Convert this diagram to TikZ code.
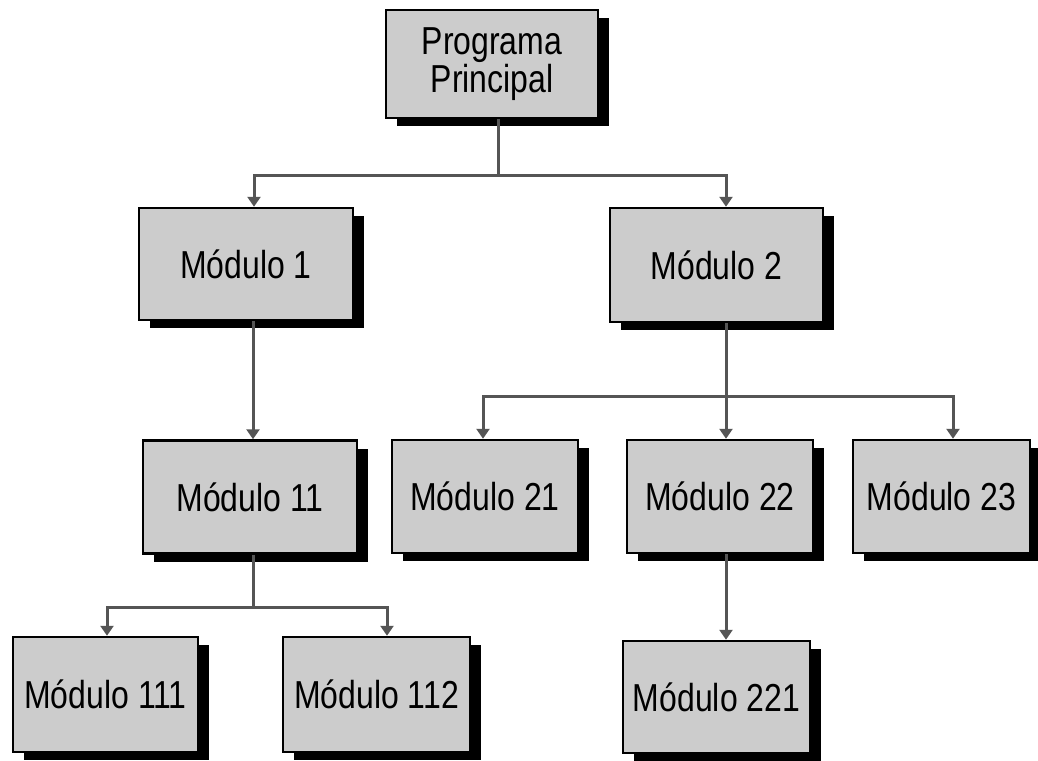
\documentclass[tikz,border=0pt]{standalone}
\usepackage{fontspec}
\setmainfont{Liberation Sans}
\newfontfamily\boxfont[FakeStretch=0.82]{Liberation Sans}
\usetikzlibrary{arrows.meta,shadows}
\definecolor{boxgray}{HTML}{CCCCCC}
\definecolor{linegray}{HTML}{555555}
\tikzset{
  modbox/.style={draw=black, line width=2.5pt, fill=boxgray, inner sep=0pt,
    font=\boxfont\fontsize{39}{38}\selectfont, align=center,
    drop shadow={shadow xshift=11pt, shadow yshift=-8pt, fill=black, opacity=1}},
  conn/.style={draw=linegray, line width=3pt},
  arr/.style={conn, -{Triangle[width=13pt,length=10pt]}}
}
\begin{document}
\begin{tikzpicture}[x=1pt,y=-1pt]
\useasboundingbox[fill=white] (0,0) rectangle (1038,760);
\node[modbox, minimum width=212pt, minimum height=108pt] (pp) at (492,64) {Programa\\Principal};
\node[modbox, minimum width=214pt, minimum height=112pt] (m1) at (246,264) {Módulo 1};
\node[modbox, minimum width=213pt, minimum height=114pt] (m2) at (716.5,265) {Módulo 2};
\node[modbox, minimum width=214pt, minimum height=113pt] (m11) at (250,497) {Módulo 11};
\node[modbox, minimum width=186pt, minimum height=113pt] (m21) at (485,496.5) {Módulo 21};
\node[modbox, minimum width=186pt, minimum height=113pt] (m22) at (720,496.5) {Módulo 22};
\node[modbox, minimum width=177pt, minimum height=113pt] (m23) at (941.5,496.5) {Módulo 23};
\node[modbox, minimum width=185pt, minimum height=115pt] (m111) at (105.5,694.5) {Módulo 111};
\node[modbox, minimum width=187pt, minimum height=115pt] (m112) at (376.5,694.5) {Módulo 112};
\node[modbox, minimum width=187pt, minimum height=112pt] (m221) at (716.5,697) {Módulo 221};

% Programa Principal -> Modulo 1, Modulo 2
\draw[conn] ([xshift=6pt]pp.south) -- ++(0,56) coordinate (j0);
\draw[arr] (j0) -| ([xshift=8pt]m1.north);
\draw[arr] (j0) -| ([xshift=9.5pt]m2.north);
% Modulo 1 -> Modulo 11
\draw[arr] ([xshift=7pt]m1.south) -- ([xshift=3pt]m11.north);
% Modulo 11 -> 111, 112
\draw[conn] ([xshift=3pt]m11.south) -- ++(0,53) coordinate (j1);
\draw[arr] (j1) -| ([xshift=1.5pt]m111.north);
\draw[arr] (j1) -| ([xshift=10.5pt]m112.north);
% Modulo 2 -> 21, 22, 23
\draw[conn] ([xshift=9.5pt]m2.south) -- ++(0,73) coordinate (j2);
\draw[arr] (j2) -| ([xshift=-2pt]m21.north);
\draw[arr] (j2) -- ([xshift=6pt]m22.north);
\draw[arr] (j2) -| ([xshift=11.5pt]m23.north);
% Modulo 22 -> 221
\draw[arr] ([xshift=6pt]m22.south) -- ([xshift=9.5pt]m221.north);
\end{tikzpicture}
\end{document}
